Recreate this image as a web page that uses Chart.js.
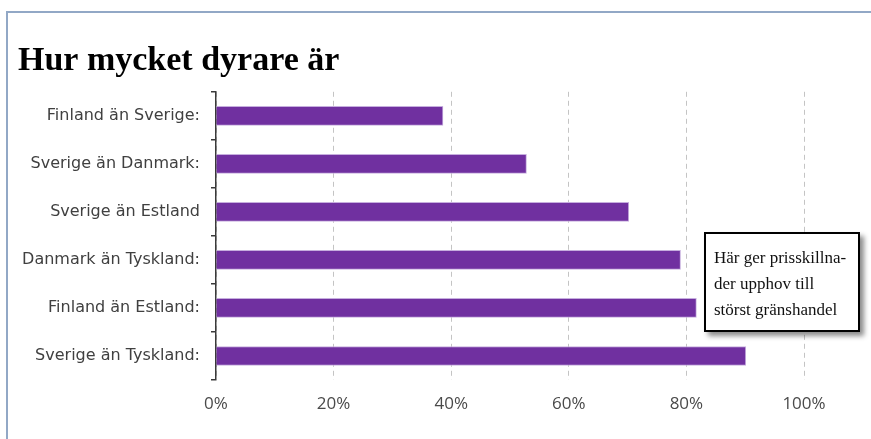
<!DOCTYPE html>
<html>
<head>
<meta charset="utf-8">
<script src="https://cdn.jsdelivr.net/npm/chart.js@4.4.1/dist/chart.umd.min.js"></script>
<style>
  html, body { margin: 0; padding: 0; background: #ffffff; }
  #wrap { position: relative; width: 871px; height: 439px; overflow: hidden; }
  #frame { position: absolute; left: 6px; top: 11px; width: 900px; height: 500px;
           border-top: 2px solid #92a8c6; border-left: 2px solid #92a8c6; }
  canvas { position: absolute; left: 0; top: 0; }
  #note { position: absolute; left: 704px; top: 232px; width: 152px; height: 96px;
          border: 2px solid #000; background: #fff; box-shadow: 4px 4px 5px rgba(0,0,0,0.45);
          font-family: "Liberation Serif", serif; font-size: 17px; line-height: 26px; color: #111;
          box-sizing: content-box; }
  #note div { position: absolute; left: 8px; top: 11px; white-space: nowrap; }
</style>
</head>
<body>
<div id="wrap">
  <div id="frame"></div>
  <canvas id="c" width="871" height="439"></canvas>
  <div id="note"><div>Här ger prisskillna-<br>der upphov till<br>störst gränshandel</div></div>
</div>
<script>
const titleText = "Hur mycket dyrare är";
const categories = [
  "Finland än Sverige:",
  "Sverige än Danmark:",
  "Sverige än Estland",
  "Danmark än Tyskland:",
  "Finland än Estland:",
  "Sverige än Tyskland:"
];
const values = [38.6, 52.8, 70.2, 79.0, 81.7, 90.1];
const xTicks = [0, 20, 40, 60, 80, 100];

new Chart(document.getElementById("c"), {
  type: "bar",
  data: {
    labels: categories,
    datasets: [{
      data: values,
      backgroundColor: "#7030a0",
      borderColor: "#c6aede",
      borderWidth: 1,
      barThickness: 19
    }]
  },
  options: {
    indexAxis: "y",
    responsive: false,
    animation: false,
    layout: { padding: { left: 18, right: 67, top: 41, bottom: 0 } },
    plugins: {
      legend: { display: false },
      tooltip: { enabled: false },
      title: {
        display: true,
        text: titleText,
        align: "start",
        color: "#000",
        font: { family: "Liberation Serif", size: 34, weight: "bold" },
        padding: { top: 0, bottom: 10 }
      }
    },
    scales: {
      x: {
        min: 0, max: 100,
        afterBuildTicks: (s) => { s.ticks = xTicks.map(v => ({ value: v })); },
        afterFit: (s) => { s.height = 59; },
        border: { display: false, dash: [5, 4] },
        grid: { color: "#c4c4c4", lineWidth: 1, drawTicks: false },
        ticks: {
          color: "#4a4a4a",
          font: { family: "Open Sans", size: 17 },
          padding: 14,
          callback: (v) => v + "%"
        }
      },
      y: {
        afterFit: (s) => { s.width = 198; },
        border: { display: true, color: "#3a3a3a", width: 1.5 },
        grid: { drawOnChartArea: false, color: "#3a3a3a", tickLength: 5, lineWidth: 1.5 },
        ticks: {
          color: "#404040",
          font: { family: "DejaVu Sans", size: 16 },
          padding: 11
        }
      }
    }
  }
});
</script>
</body>
</html>
